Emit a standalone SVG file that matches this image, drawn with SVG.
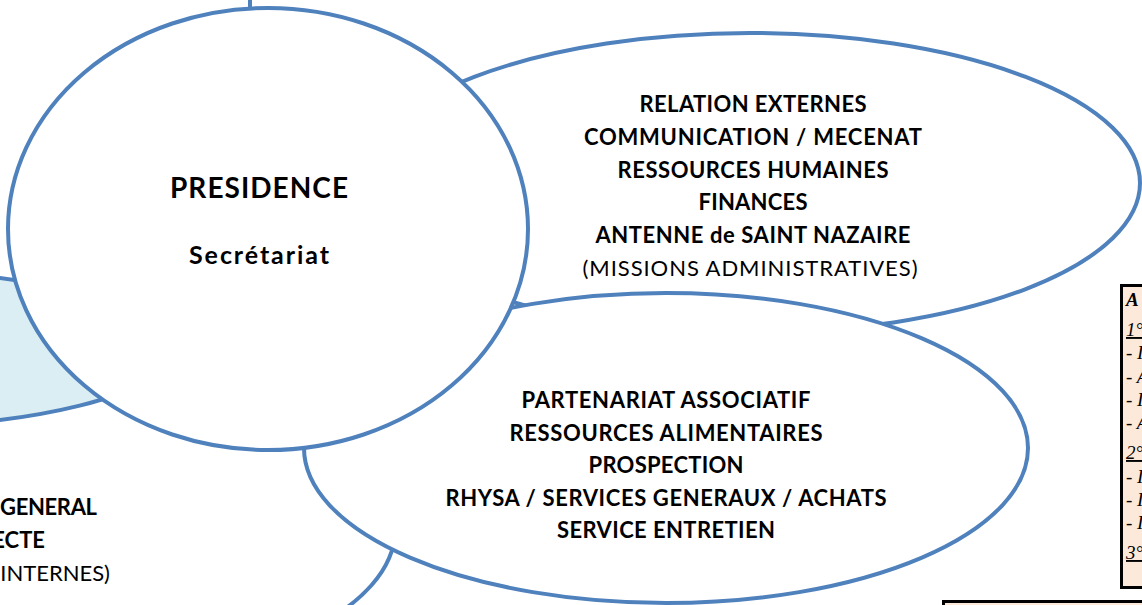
<svg xmlns="http://www.w3.org/2000/svg" width="1142" height="605" viewBox="0 0 1142 605">
<style>
.node{fill:#FFFFFF;stroke:#4F81BD;stroke-width:4}
.blue{fill:#DAEEF3;stroke:#4F81BD;stroke-width:4}
.conn{stroke:#4F81BD;stroke-width:4;fill:none}
.t{font-family:Lato,"Liberation Sans",sans-serif;font-weight:bold;font-size:22px;fill:#000;text-anchor:middle}
.r{font-family:Lato,"Liberation Sans",sans-serif;font-weight:normal;font-size:22px;fill:#000;text-anchor:middle}
.box{fill:#FDE9D9;stroke:#000;stroke-width:3}
.bt{font-family:"Liberation Serif",serif;font-style:italic;font-size:19px;fill:#000}
</style>
<rect width="1142" height="605" fill="#FFFFFF"/>
<g id="connectors">
<line class="conn" x1="250" y1="0" x2="250" y2="10"/>
</g>
<g id="node-direction">
<ellipse class="node" cx="60" cy="530" rx="335" ry="150"/>
<text class="t" x="97" y="515" style="text-anchor:end" textLength="97">GENERAL</text>
<text class="t" x="45" y="548" style="text-anchor:end">ECTE</text>
<text class="r" x="110" y="581" style="text-anchor:end">INTERNES)</text>
</g>
<g id="node-blue">
<ellipse class="blue" cx="-148" cy="349" rx="322" ry="80"/>
</g>
<g id="node-admin">
<ellipse class="node" cx="750" cy="183" rx="390" ry="150"/>
<text class="t" x="753" y="112" textLength="227">RELATION EXTERNES</text>
<text class="t" x="753" y="145" textLength="338">COMMUNICATION / MECENAT</text>
<text class="t" x="753" y="178" textLength="271">RESSOURCES HUMAINES</text>
<text class="t" x="753" y="210" textLength="109">FINANCES</text>
<text class="t" x="753" y="243" textLength="315">ANTENNE de SAINT NAZAIRE</text>
<text class="r" x="750" y="276" textLength="335">(MISSIONS  ADMINISTRATIVES)</text>
</g>
<g id="node-partenariat">
<ellipse class="node" cx="666" cy="448" rx="362" ry="155"/>
<text class="t" x="666" y="408" textLength="289">PARTENARIAT ASSOCIATIF</text>
<text class="t" x="666" y="441" textLength="313">RESSOURCES ALIMENTAIRES</text>
<text class="t" x="666" y="473" textLength="155">PROSPECTION</text>
<text class="t" x="666" y="506" textLength="441">RHYSA / SERVICES GENERAUX / ACHATS</text>
<text class="t" x="666" y="538" textLength="218">SERVICE ENTRETIEN</text>
</g>
<g id="node-presidence">
<ellipse class="node" cx="268" cy="229" rx="260" ry="221"/>
<text class="t" x="259" y="198" style="font-size:28px" textLength="178">PRESIDENCE</text>
<text class="t" x="259" y="264" style="font-size:25px" textLength="140">Secrétariat</text>
</g>
<g id="box-legend">
<rect class="box" x="1121.5" y="285.5" width="40" height="302"/>
<text class="bt" x="1126" y="306" style="font-weight:bold">A</text>
<text class="bt" x="1126" y="336" style="text-decoration:underline">1°</text>
<text class="bt" x="1126" y="359">- I</text>
<text class="bt" x="1126" y="383">- A</text>
<text class="bt" x="1126" y="406">- I</text>
<text class="bt" x="1126" y="429">- A</text>
<text class="bt" x="1126" y="459" style="text-decoration:underline">2°</text>
<text class="bt" x="1126" y="483">- I</text>
<text class="bt" x="1126" y="506">- I</text>
<text class="bt" x="1126" y="529">- I</text>
<text class="bt" x="1126" y="559" style="text-decoration:underline">3°</text>
</g>
<g id="box-bottom">
<rect class="box" x="943.5" y="601.5" width="220" height="40"/>
</g>
</svg>
